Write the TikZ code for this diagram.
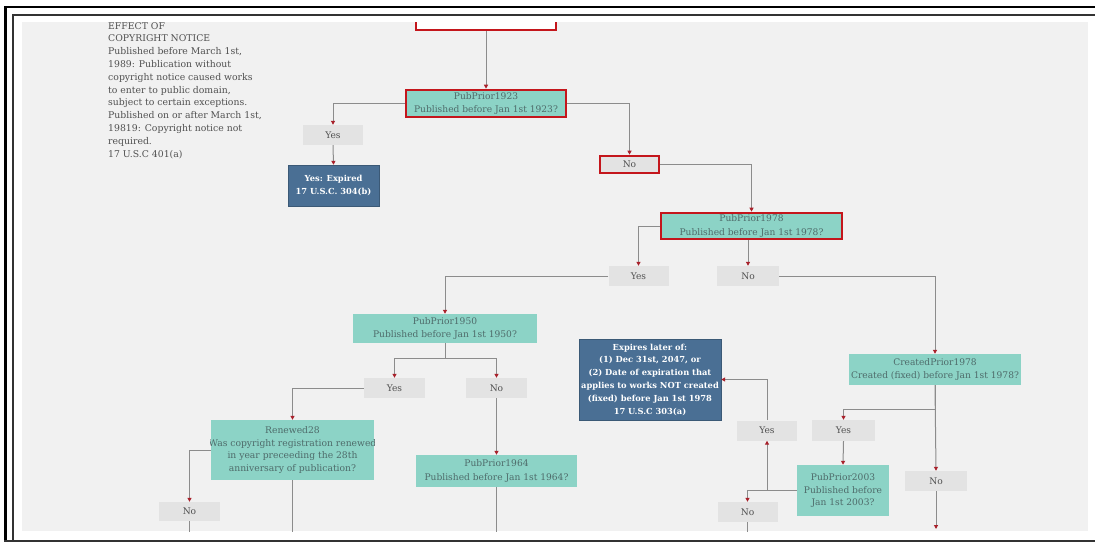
\documentclass[tikz,border=0pt]{standalone}
\usepackage{fontspec}
\setmainfont{DejaVu Serif}
\usetikzlibrary{arrows.meta}
\definecolor{tealf}{HTML}{8CD3C6}
\definecolor{tealt}{HTML}{4E6B6A}
\definecolor{redb}{HTML}{C4161C}
\definecolor{grayf}{HTML}{E3E3E3}
\definecolor{bluef}{HTML}{4A6F94}
\definecolor{bgc}{HTML}{F1F1F1}
\definecolor{lnc}{HTML}{8C8C8C}
\definecolor{tipc}{HTML}{A8202A}
\definecolor{txtc}{HTML}{505050}
\begin{document}
\begin{tikzpicture}[x=1pt,y=-1pt,
 font=\fontsize{9.1}{13.5}\selectfont,
 box/.style={inner sep=0pt, align=center, anchor=center},
 tbox/.style={box, fill=tealf, text=tealt},
 gbox/.style={box, fill=grayf, text=txtc},
 bfont/.style={font=\fontsize{8.3}{12.8}\selectfont\bfseries},
 bbox/.style={box, fill=bluef, draw=bluef!80!black, text=white, bfont},
 hl/.style={draw=redb, line width=2.6pt},
 conn/.style={draw=lnc, line width=1pt, -{Triangle[length=4pt,width=4pt,color=tipc]}},
 plain/.style={draw=lnc, line width=1pt},
]
\useasboundingbox (0,0) rectangle (1095,544);
\fill[white] (0,0) rectangle (1095,544);
% frame
\draw[black, line width=3pt] (5.5,6) -- (5.5,542);
\draw[black, line width=2.5pt] (4,7) -- (1095,7);
\draw[black!80, line width=2pt] (13,14) -- (13,540);
\draw[black!80, line width=2pt] (12,14.5) -- (1095,14.5);
\draw[black!80, line width=2.5pt] (4,541) -- (1095,541);
\fill[bgc] (22,22) rectangle (1088,531);

\begin{scope}
\clip (22,22) rectangle (1088,531);
% left note
\node[anchor=north west, align=left, inner sep=0pt, text=txtc,
      font=\fontsize{9.3}{12.8}\selectfont] (note) at (108,22)
 {EFFECT OF\\COPYRIGHT NOTICE\\Published before March 1st,\\1989: Publication without\\copyright notice caused works\\to enter to public domain,\\subject to certain exceptions.\\Published on or after March 1st,\\19819: Copyright notice not\\required.\\17 U.S.C 401(a)};

% nodes
\node[box, fill=white, hl, minimum width=140, minimum height=30] (top) at (486,15) {};
\node[tbox, hl, minimum width=160, minimum height=27] (p23) at (486,103.5) {PubPrior1923\\Published before Jan 1st 1923?};
\node[gbox, minimum width=60, minimum height=20] (yes1) at (333,135) {Yes};
\node[bbox, minimum width=91, minimum height=41] (exp1) at (333.5,185.5) {Yes: Expired\\17 U.S.C. 304(b)};
\node[gbox, hl, minimum width=59, minimum height=17] (no1) at (629.5,164.5) {No};
\node[tbox, hl, minimum width=181, minimum height=26] (p78) at (751.5,226) {PubPrior1978\\Published before Jan 1st 1978?};
\node[gbox, minimum width=60, minimum height=20] (yes2) at (638.5,276) {Yes};
\node[gbox, minimum width=62, minimum height=20] (no2) at (748,276) {No};
\node[tbox, minimum width=184, minimum height=29] (p50) at (445,328.5) {PubPrior1950\\Published before Jan 1st 1950?};
\node[gbox, minimum width=61, minimum height=20] (yes3) at (394.5,388) {Yes};
\node[gbox, minimum width=61, minimum height=20] (no3) at (496.5,388) {No};
\node[tbox, minimum width=163, minimum height=60] (ren) at (292.5,450) {};
\begin{scope}
\clip (ren.north west) rectangle (ren.south east);
\node[box, text=tealt, font=\fontsize{9.2}{12.4}\selectfont] (rentxt) at (292.5,450) {Renewed28\\Was copyright registration renewed\\in year preceeding the 28th\\anniversary of publication?};
\end{scope}
\node[gbox, minimum width=61, minimum height=19] (no4) at (189.5,511.5) {No};
\node[tbox, minimum width=161, minimum height=32] (p64) at (496.5,471) {PubPrior1964\\Published before Jan 1st 1964?};
\node[bbox, minimum width=142, minimum height=81] (exp2) at (650,379.5) {};
\begin{scope}
\clip (exp2.north west) rectangle (exp2.south east);
\node[box, text=white, bfont] (exptxt) at (650,379.5) {Expires later of:\\(1) Dec 31st, 2047, or\\(2) Date of expiration that\\applies to works NOT created\\(fixed) before Jan 1st 1978\\17 U.S.C 303(a)};
\end{scope}
\node[tbox, minimum width=172, minimum height=31] (c78) at (935,369.5) {CreatedPrior1978\\Created (fixed) before Jan 1st 1978?};
\node[gbox, minimum width=63, minimum height=21] (yes5) at (843.5,430.5) {Yes};
\node[gbox, minimum width=62, minimum height=20] (no5) at (936,481) {No};
\node[tbox, minimum width=92, minimum height=51, font=\fontsize{9.1}{12.4}\selectfont] (p03) at (843,490.5) {PubPrior2003\\Published before\\Jan 1st 2003?};
\node[gbox, minimum width=60, minimum height=20] (yes4) at (767,430.5) {Yes};
\node[gbox, minimum width=60, minimum height=20] (no6) at (747.5,512) {No};

% ends beyond the visible area
\coordinate (e1) at (no4.south |- 0,535);
\coordinate (e2) at (ren.south |- 0,535);
\coordinate (e3) at (p64.south |- 0,535);
\coordinate (e4) at (no6.south |- 0,535);
\coordinate (e5) at (no5.south |- 0,529);

% connectors
\draw[conn] (top.south) -- (p23.north);
\draw[conn] (p23.west) -| (yes1.north);
\draw[conn] (yes1.south) -- (exp1.north);
\draw[conn] (p23.east) -| (no1.north);
\draw[conn] (no1.east) -| (p78.north);
\draw[conn] (p78.west) -| (yes2.north);
\draw[conn] (no2.north |- p78.south) -- (no2.north);
\draw[conn] (yes2.west) -| (p50.north);
\draw[conn] (p50.south) -- ++(0,15) -| (yes3.north);
\draw[conn] (p50.south) -- ++(0,15) -| (no3.north);
\draw[conn] (yes3.west) -| (ren.north);
\draw[conn] (ren.west) -| (no4.north);
\draw[plain] (no4.south) -- (e1);
\draw[plain] (ren.south) -- (e2);
\draw[conn] (no3.south) -- (p64.north);
\draw[plain] (p64.south) -- (e3);
\draw[conn] (no2.east) -| (c78.north);
\draw[conn] (c78.south) -- ++(0,24) -| (yes5.north);
\draw[conn] (c78.south) -- (no5.north);
\draw[conn] (no5.south) -- (e5);
\draw[conn] (yes5.south) -- (p03.north);
\draw[conn] (p03.west) -| (no6.north);
\coordinate (j1) at (yes4.south |- p03.west);
\draw[conn] (j1) -- (yes4.south);
\draw[conn] (yes4.north) |- (exp2.east);
\draw[plain] (no6.south) -- (e4);
\end{scope}
\end{tikzpicture}
\end{document}
